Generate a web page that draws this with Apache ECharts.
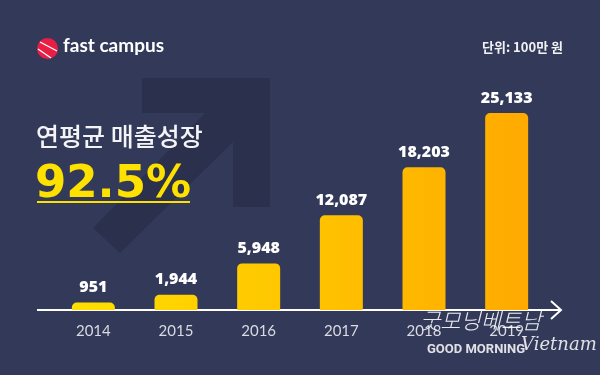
<!DOCTYPE html>
<html>
<head>
<meta charset="utf-8">
<script src="https://cdn.jsdelivr.net/npm/echarts@6/dist/echarts.min.js"></script>
<style>
html,body{margin:0;padding:0;background:#333a59;}
#chart{width:600px;height:375px;}
</style>
</head>
<body>
<div id="chart"></div>
<script>
var years = ['2014', '2015', '2016', '2017', '2018', '2019'];
var revenue = [951, 1944, 5948, 12087, 18203, 25133];
var growthTitle = '연평균 매출성장';
var growthValue = '92.5%';
var unitLabel = '단위: 100만 원';
var brand = 'fast campus';

function fmt(v){ return String(v).replace(/\B(?=(\d{3})+(?!\d))/g, ','); }

var chart = echarts.init(document.getElementById('chart'), null, {renderer:'canvas'});
var bg = '#333a59';
var option = {
  backgroundColor: bg,
  animation: false,
  grid: {left: 52, right: 52, top: 113, bottom: 65},
  xAxis: {
    type: 'category', data: years,
    axisLine: {show: false}, axisTick: {show: false},
    axisLabel: {color: '#d9dae2', fontFamily: 'Lato', fontSize: 15, margin: 14}
  },
  yAxis: {type: 'value', min: 0, max: 25133, show: false, splitLine: {show: false}},
  graphic: [
    {type: 'polygon', z: -1, shape: {points: [[142,78],[270,78],[270,207],[233,207],[233,142],[120,253],[93,228],[205,113],[142,113]]}, style: {fill: '#2b304d'}},
    {type: 'circle', shape: {cx: 47.5, cy: 48.5, r: 10.5}, style: {fill: '#ea1d45'}},
    {type: 'line', shape: {x1: 40, y1: 42, x2: 57, y2: 51}, style: {stroke: '#ffffff', lineWidth: 1.4}},
    {type: 'line', shape: {x1: 38, y1: 49, x2: 51, y2: 58}, style: {stroke: '#ffffff', lineWidth: 1.4}},
    {type: 'text', left: 63, top: 36, style: {text: brand, fill: '#ffffff', font: 'bold 19px Lato'}},
    {type: 'text', right: 37, top: 41, style: {text: unitLabel, fill: '#f2f2f5', font: 'bold 13px "Noto Sans CJK KR"'}},
    {type: 'text', left: 36, top: 124, style: {text: growthTitle, fill: '#f4f4f6', font: '500 25px "Noto Sans CJK KR"'}},
    {type: 'text', left: 35, top: 163, style: {text: growthValue, fill: '#ffe100', font: 'bold 45px "DejaVu Sans"'}},
    {type: 'rect', shape: {x: 37, y: 201, width: 153, height: 2}, style: {fill: '#ffe100'}},
    {type: 'line', shape: {x1: 37, y1: 310, x2: 561, y2: 310}, style: {stroke: '#ffffff', lineWidth: 2}},
    {type: 'polyline', shape: {points: [[551,301],[561,310],[551,319]]}, style: {stroke: '#ffffff', lineWidth: 2, fill: null}},
    {type: 'text', left: 420, top: 310, z: 10, style: {text: '굿모닝베트남', fill: 'rgba(255,255,255,0.9)', font: 'italic 300 22px "Noto Sans CJK KR"'}},
    {type: 'text', left: 427, top: 343, z: 10, style: {text: 'GOOD MORNING', fill: '#e0e0e6', font: 'bold 13px Roboto'}},
    {type: 'text', left: 521, top: 336, z: 10, style: {text: 'Vietnam', fill: '#e0e0e6', font: 'italic 300 18px "DejaVu Serif"'}}
  ],
  series: [{
    type: 'bar', data: revenue, barWidth: 43,
    itemStyle: {
      borderRadius: [5,5,0,0],
      color: {type: 'linear', x: 72, y: 0, x2: 528, y2: 0, global: true,
        colorStops: [{offset: 0, color: '#ffdf00'}, {offset: 1, color: '#ffaa00'}]}
    },
    label: {show: true, position: 'top', distance: 7, color: '#ffffff', fontFamily: 'Open Sans', fontWeight: 800, fontSize: 16,
      formatter: function(p){ return fmt(p.value); }}
  }]
};
chart.setOption(option);
</script>
</body>
</html>
